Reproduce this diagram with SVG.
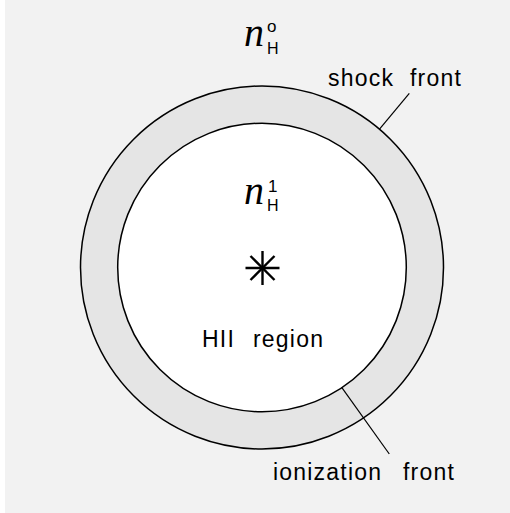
<svg xmlns="http://www.w3.org/2000/svg" width="510" height="513" viewBox="0 0 510 513">
<style>
.lbl{font-family:"Liberation Sans",Arial,sans-serif;font-size:23px;letter-spacing:1.2px;fill:#000}
.ni{font-family:"Liberation Serif","Times New Roman",serif;font-style:italic;font-size:40px;fill:#000}
.sub{font-family:"Liberation Sans",Arial,sans-serif;font-size:16px;fill:#000}
.sup{font-family:"Liberation Sans",Arial,sans-serif;font-size:17px;fill:#000}
.ring{stroke:#000;stroke-width:1.5}
.lead{stroke:#000;stroke-width:1.2;fill:none}
</style>
<rect x="0" y="0" width="510" height="513" fill="#ffffff"/>
<rect x="5" y="0" width="505" height="513" fill="#f2f2f2"/>
<g id="shock-shell">
<circle class="ring" cx="262" cy="267.5" r="181.5" fill="#e5e5e5"/>
</g>
<g id="hii-region">
<circle class="ring" cx="262" cy="267.5" r="144.3" fill="#ffffff"/>
</g>
<g id="star" stroke="#000" stroke-width="2.4">
<line x1="262.5" y1="251" x2="262.5" y2="285"/>
<line x1="245.5" y1="268" x2="279.5" y2="268"/>
<line x1="250.5" y1="256" x2="274.5" y2="280"/>
<line x1="250.5" y1="280" x2="274.5" y2="256"/>
</g>
<g id="n-outer">
<text class="ni" x="244" y="46">n</text>
<text class="sub" x="267" y="54">H</text>
<text class="sup" x="267" y="32">o</text>
</g>
<g id="n-inner">
<text class="ni" x="244" y="204">n</text>
<text class="sub" x="267" y="211">H</text>
<text class="sup" x="268" y="192">1</text>
</g>
<g id="label-hii">
<text class="lbl" x="202" y="347">HII<tspan x="253">region</tspan></text>
</g>
<g id="label-shock">
<text class="lbl" x="328" y="86">shock<tspan x="410">front</tspan></text>
</g>
<g id="label-ionization">
<text class="lbl" x="273" y="480">ionization<tspan x="403">front</tspan></text>
</g>
<g id="connectors">
<line class="lead" x1="409.3" y1="93.3" x2="379.3" y2="129.3"/>
<line class="lead" x1="341.7" y1="387.3" x2="389.3" y2="454"/>
</g>
</svg>
